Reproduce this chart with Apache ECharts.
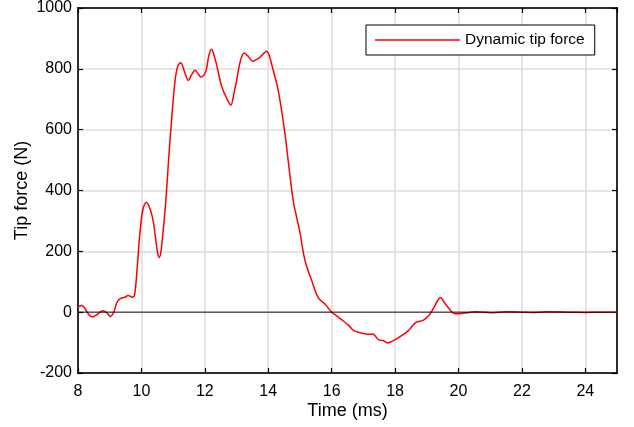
<!DOCTYPE html>
<html><head><meta charset="utf-8">
<script src="https://cdn.jsdelivr.net/npm/echarts@6/dist/echarts.min.js"></script>
<style>html,body{margin:0;padding:0;background:#fff}#c{width:634px;height:427px}</style>
</head><body><div id="c"></div>
<script>
const timeMs = [8.0,8.1,8.2,8.32,8.45,8.6,8.79,8.92,9.02,9.12,9.22,9.32,9.48,9.58,9.72,9.79,9.87,9.95,10.05,10.16,10.27,10.37,10.45,10.51,10.56,10.61,10.67,10.77,10.87,10.95,11.06,11.15,11.24,11.36,11.48,11.58,11.69,11.78,11.88,12.03,12.12,12.21,12.29,12.37,12.53,12.68,12.82,12.92,13.0,13.12,13.24,13.38,13.51,13.62,13.74,13.85,13.95,14.03,14.11,14.32,14.53,14.65,14.79,14.9,15.0,15.16,15.37,15.58,15.79,16.0,16.18,16.37,16.55,16.69,16.95,17.16,17.3,17.48,17.62,17.76,17.9,18.06,18.25,18.43,18.55,18.67,18.88,19.0,19.11,19.25,19.43,19.6,19.8,19.9,20.1,20.3,20.5,20.8,21.1,21.5,22.0,22.3,22.8,23.5,24.0,24.5,25.0];
const forceN = [16,22,15,-5,-16,-8,5,-3,-14,-2,30,44,49,55,49,60,150,257,340,361,340,301,240,196,180,196,250,366,520,629,760,810,820,790,762,780,795,785,773,792,840,864,845,814,743,705,681,720,760,825,852,840,825,830,838,850,858,845,814,727,585,480,366,310,262,170,104,47,27,0,-14,-29,-45,-60,-69,-73,-72,-91,-93,-101,-96,-87,-74,-60,-45,-33,-27,-18,-5,20,47,25,0,-5,-4,-2,1,0,-2,1,0,-1,1,0,-1,0,0];
const xTicks = [8,10,12,14,16,18,20,22,24];
const yTicks = [-200,0,200,400,600,800,1000];
const seriesName = 'Dynamic tip force';

const chart = echarts.init(document.getElementById('c'));
const font = 'Liberation Sans, Arial, sans-serif';
const lineData = timeMs.map((t,i)=>[t,forceN[i]]);
const axisCommon = {
  axisLine:{show:true,onZero:false,lineStyle:{color:'#000',width:1.5}},
  axisTick:{show:true,inside:true,length:5,lineStyle:{color:'#000',width:1.2}}
};
chart.setOption({
  animation:false,
  grid:{left:78,right:17,top:7,bottom:54,show:true,borderColor:'#000',borderWidth:1.5,backgroundColor:'#fff'},
  legend:{data:[{name:seriesName,icon:'rect'}],left:366,top:25,orient:'horizontal',borderColor:'#000',borderWidth:1,padding:[7,10,7,9],itemWidth:85,itemHeight:1.6,itemGap:9,backgroundColor:'#fff',
    textStyle:{fontFamily:font,fontSize:15.5,color:'#000'}},
  xAxis:[Object.assign({type:'value',min:8,max:25,interval:2,position:'bottom',
    name:'Time (ms)',nameLocation:'middle',nameGap:29,nameMoveOverlap:false,nameTextStyle:{fontFamily:font,fontSize:18,color:'#000'},
    axisLabel:{fontFamily:font,fontSize:16,color:'#000',margin:11,showMaxLabel:false,formatter:v=>xTicks.includes(v)?String(v):''},
    splitLine:{show:true,lineStyle:{color:'#dcdcdc',width:1.5}}},axisCommon),
   Object.assign({type:'value',min:8,max:25,interval:2,position:'top',
    axisLabel:{show:false},splitLine:{show:false}},axisCommon)],
  yAxis:[Object.assign({type:'value',min:-200,max:1000,interval:200,position:'left',
    name:'Tip force (N)',nameLocation:'middle',nameGap:47,nameMoveOverlap:false,nameTextStyle:{fontFamily:font,fontSize:18,color:'#000'},
    axisLabel:{fontFamily:font,fontSize:16,color:'#000',margin:6,formatter:v=>yTicks.includes(v)?String(v):''},
    splitLine:{show:true,lineStyle:{color:'#dcdcdc',width:1.5}}},axisCommon),
   Object.assign({type:'value',min:-200,max:1000,interval:200,position:'right',
    axisLabel:{show:false},splitLine:{show:false}},axisCommon)],
  series:[
    {name:seriesName,type:'line',data:lineData,showSymbol:false,symbol:'none',smooth:0.35,
     lineStyle:{color:'#ff0000',width:1.5},itemStyle:{color:'#ff0000'},z:3},
    {name:'zero',type:'line',data:[[8,0],[25,0]],showSymbol:false,symbol:'none',
     lineStyle:{color:'rgba(0,0,0,0.6)',width:1.5},z:4,silent:true}
  ]
});
</script></body></html>
